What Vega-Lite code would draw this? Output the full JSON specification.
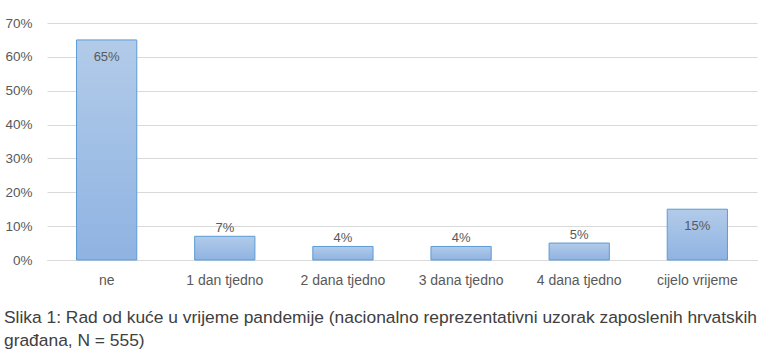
{
  "$schema": "https://vega.github.io/schema/vega-lite/v6.json",
  "width": 710,
  "height": 237,
  "padding": {"left": 3, "top": 16, "right": 14, "bottom": 4},
  "background": "white",
  "config": {
    "view": {"stroke": null},
    "font": "Liberation Sans"
  },
  "title": {
    "text": ["Slika 1: Rad od kuće u vrijeme pandemije (nacionalno reprezentativni uzorak zaposlenih hrvatskih", "građana, N = 555)"],
    "orient": "bottom",
    "anchor": "start",
    "frame": "bounds",
    "font": "Liberation Sans",
    "fontSize": 17.4,
    "fontWeight": "normal",
    "color": "#404040",
    "lineHeight": 23,
    "offset": 22,
    "dx": -1
  },
  "data": {
    "values": [
      {"kategorija": "ne", "udio": 0.65},
      {"kategorija": "1 dan tjedno", "udio": 0.07},
      {"kategorija": "2 dana tjedno", "udio": 0.04},
      {"kategorija": "3 dana tjedno", "udio": 0.04},
      {"kategorija": "4 dana tjedno", "udio": 0.05},
      {"kategorija": "cijelo vrijeme", "udio": 0.15}
    ]
  },
  "encoding": {
    "x": {
      "field": "kategorija",
      "type": "nominal",
      "sort": null,
      "scale": {"paddingInner": 0.49, "paddingOuter": 0.25},
      "axis": {
        "title": null,
        "labelAngle": 0,
        "ticks": false,
        "domainColor": "#d9d9d9",
        "labelColor": "#595959",
        "labelFont": "Liberation Sans",
        "labelFontSize": 14,
        "labelPadding": 13
      }
    },
    "y": {
      "field": "udio",
      "type": "quantitative",
      "scale": {"domain": [0, 0.7]},
      "axis": {
        "title": null,
        "format": ".0%",
        "values": [0, 0.1, 0.2, 0.3, 0.4, 0.5, 0.6, 0.7],
        "ticks": false,
        "domain": false,
        "gridColor": "#d9d9d9",
        "labelColor": "#595959",
        "labelFont": "Liberation Sans",
        "labelFontSize": 13.5,
        "labelPadding": 15
      }
    }
  },
  "layer": [
    {
      "mark": {
        "type": "bar",
        "stroke": "#5b9bd5",
        "strokeWidth": 1,
        "color": {
          "gradient": "linear",
          "x1": 0, "y1": 0, "x2": 0, "y2": 1,
          "stops": [
            {"offset": 0, "color": "#b2cbe9"},
            {"offset": 1, "color": "#8fb3e2"}
          ]
        }
      }
    },
    {
      "transform": [{"filter": "datum.udio >= 0.15"}],
      "mark": {"type": "text", "dy": 17, "color": "#595959", "font": "Liberation Sans", "fontSize": 13},
      "encoding": {"text": {"field": "udio", "type": "quantitative", "format": ".0%"}}
    },
    {
      "transform": [{"filter": "datum.udio < 0.15"}],
      "mark": {"type": "text", "dy": -8, "color": "#595959", "font": "Liberation Sans", "fontSize": 13},
      "encoding": {"text": {"field": "udio", "type": "quantitative", "format": ".0%"}}
    }
  ]
}
